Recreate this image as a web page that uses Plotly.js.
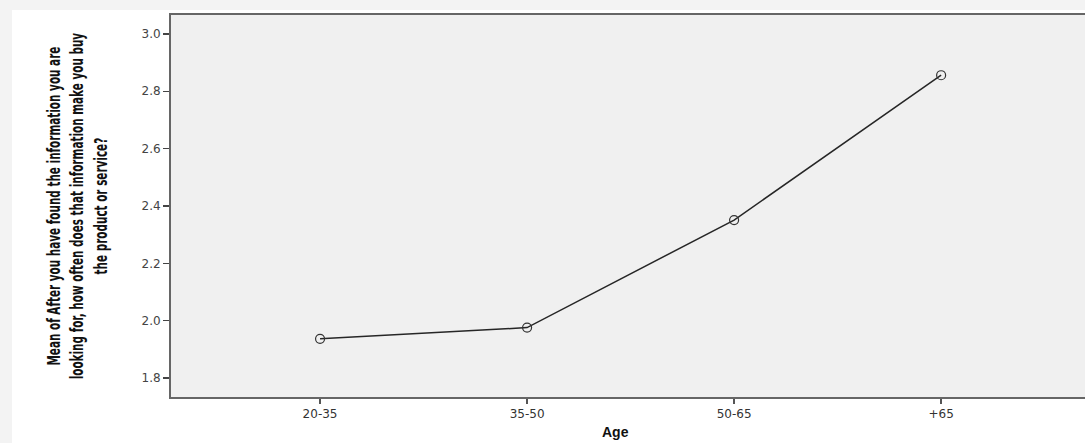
<!DOCTYPE html>
<html>
<head>
<meta charset="utf-8">
<script src="https://cdn.plot.ly/plotly-3.0.1.min.js"></script>
<style>
html,body{margin:0;padding:0;background:#f3f3f3;overflow:hidden;width:1085px;height:443px;}
#chart{position:absolute;left:12px;top:10px;width:1073px;height:433px;background:#fff;}
#chart .ytitle-ann text.annotation-text{transform-box:fill-box;transform-origin:center;transform:scaleX(0.645);}
</style>
</head>
<body>
<div id="chart"></div>
<script>
const categories = ["20-35", "35-50", "50-65", "+65"];
const meanValues = [1.937, 1.976, 2.351, 2.856];
const yTickVals = [1.8, 2.0, 2.2, 2.4, 2.6, 2.8, 3.0];
const yTitleLines = [
  "Mean of After you have found the information you are",
  "looking for, how often does that information make you buy",
  "the product or service?"
];
const xTitle = "Age";

const trace = {
  x: categories.map((c, i) => i),
  y: meanValues,
  type: "scatter",
  mode: "lines+markers",
  line: {color: "#262626", width: 1.5},
  marker: {symbol: "circle-open", size: 9, color: "#333", line: {width: 1.2, color: "#333"}},
  hoverinfo: "skip"
};

const layout = {
  width: 1073,
  height: 433,
  margin: {l: 159, r: 0, t: 5, b: 46},
  paper_bgcolor: "#ffffff",
  plot_bgcolor: "#f0f0f0",
  showlegend: false,
  xaxis: {
    range: [-0.72, 3.695],
    tickvals: categories.map((c, i) => i),
    ticktext: categories,
    ticks: "outside",
    ticklen: 5,
    tickwidth: 2,
    tickcolor: "#555",
    showline: true,
    linecolor: "#666",
    linewidth: 2,
    mirror: true,
    showgrid: false,
    zeroline: false,
    tickfont: {family: "DejaVu Sans", size: 12, color: "#333"}
  },
  yaxis: {
    range: [1.734, 3.066],
    tickvals: yTickVals,
    tickformat: ".1f",
    ticks: "outside",
    ticklen: 6,
    tickwidth: 1.5,
    tickcolor: "#444",
    showline: true,
    linecolor: "#666",
    linewidth: 2,
    mirror: true,
    showgrid: false,
    zeroline: false,
    tickfont: {family: "DejaVu Sans", size: 12, color: "#444"}
  },
  annotations: [
    {
      text: yTitleLines.join("<br>"),
      xref: "paper", yref: "paper",
      x: -0.1028, y: 0.5,
      xanchor: "center", yanchor: "middle",
      textangle: -90,
      showarrow: false,
      align: "center",
      font: {family: "DejaVu Sans Condensed, DejaVu Sans, sans-serif", size: 18, color: "#111", weight: "bold"}
    },
    {
      text: "<b>" + xTitle + "</b>",
      xref: "paper", yref: "paper",
      x: 0.486, y: 0,
      xanchor: "center", yanchor: "middle",
      yshift: -35,
      showarrow: false,
      font: {family: "Liberation Sans, Arial, sans-serif", size: 14, color: "#111"}
    }
  ]
};

Plotly.newPlot("chart", [trace], layout, {displayModeBar: false, staticPlot: true}).then(function (gd) {
  const anns = gd.querySelectorAll(".annotation");
  if (anns.length) anns[0].classList.add("ytitle-ann");
});
</script>
</body>
</html>
